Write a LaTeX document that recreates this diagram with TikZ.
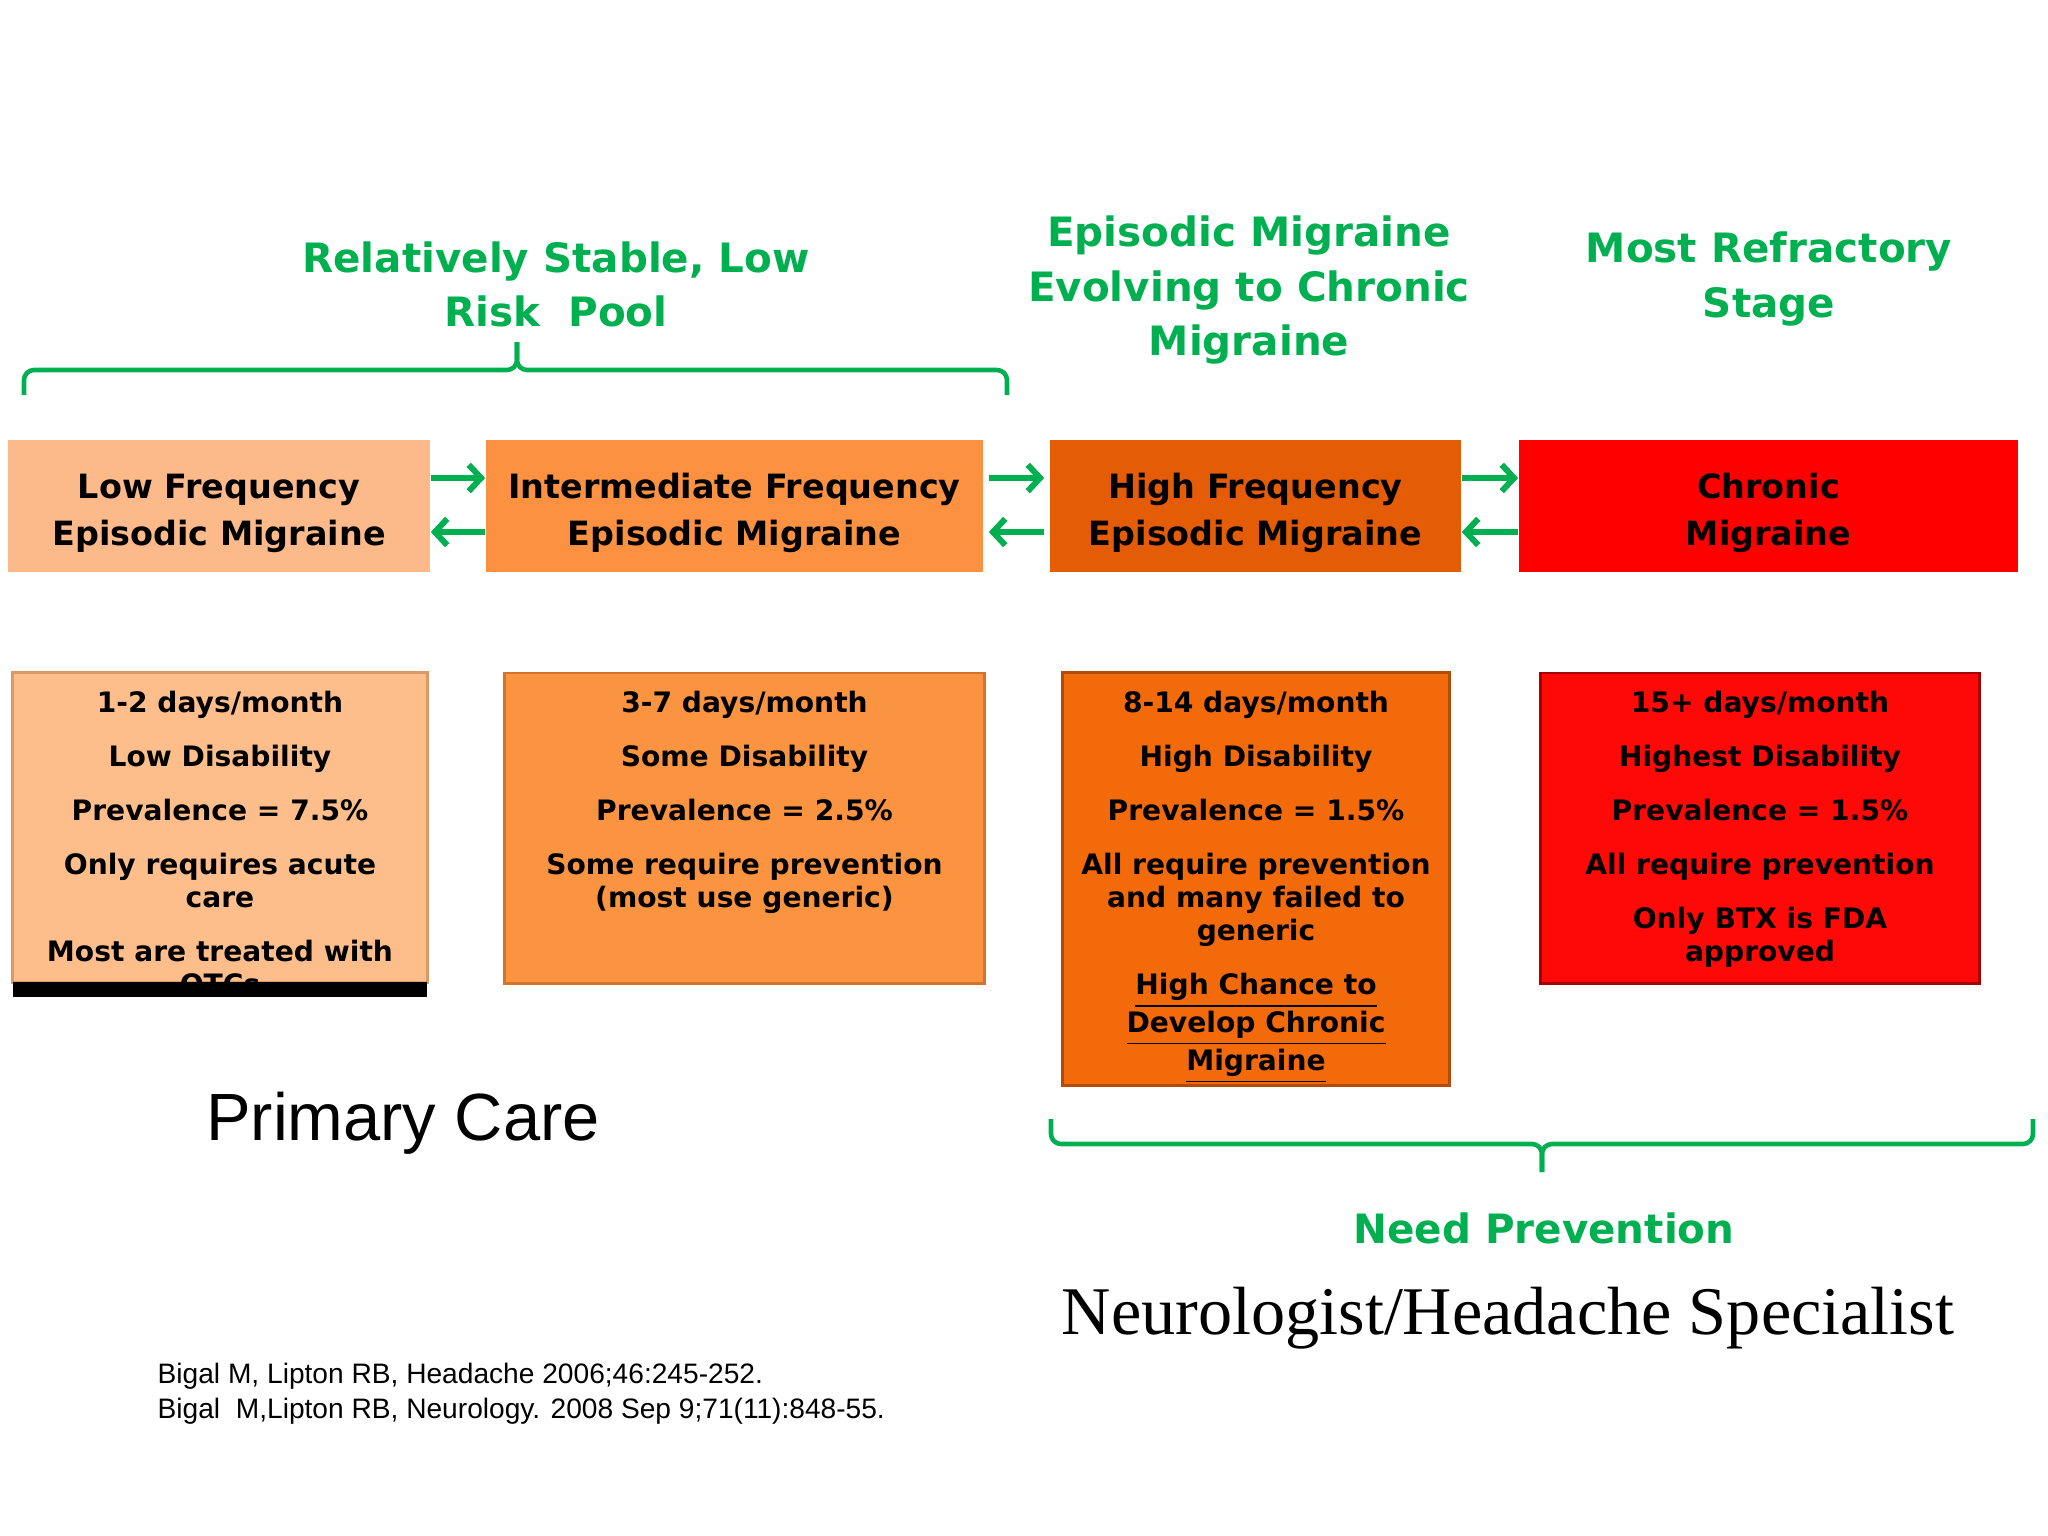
\documentclass[tikz,border=0pt]{standalone}
\usepackage{fontspec}
\setmainfont{DejaVu Sans}
\newfontfamily\refsfont{Liberation Sans}
\newfontfamily\specfont{Liberation Serif}
\usetikzlibrary{arrows.meta,positioning}

\definecolor{stagegreen}{HTML}{00B050}
\definecolor{lowfill}{HTML}{FCBA8B}
\definecolor{midfill}{HTML}{FC9142}
\definecolor{highfill}{HTML}{E45C06}
\definecolor{chronfill}{HTML}{FF0000}
\definecolor{lowdet}{HTML}{FDBE8C}
\definecolor{lowedge}{HTML}{D89A68}
\definecolor{middet}{HTML}{FB9441}
\definecolor{midedge}{HTML}{D27430}
\definecolor{highdet}{HTML}{F36A0B}
\definecolor{highedge}{HTML}{B44A08}
\definecolor{chrondet}{HTML}{FF0808}
\definecolor{chronedge}{HTML}{A80000}

% lowers the two text lines a little inside a stage box
\newcommand{\stagelift}{\rule{0pt}{10.9pt}}

\begin{document}
\begin{tikzpicture}[
    x=0.01cm, y=-0.01cm,
    stagebox/.style={rectangle,inner sep=0pt,minimum height=1.32cm,align=center,
      font=\fontsize{9.5}{13.4}\selectfont\bfseries},
    detailbox/.style={rectangle,inner sep=0pt,minimum height=3.1cm,line width=0.8pt},
    detailtext/.style={inner sep=0pt,align=center,anchor=north,
      font=\fontsize{8}{9.4}\selectfont\bfseries},
    heading/.style={align=center,text=stagegreen,inner sep=0pt,
      font=\fontsize{11.5}{15.4}\selectfont\bfseries},
    flowarrow/.style={draw=stagegreen,line width=1.7pt,
      -{Straight Barb[length=3.5pt,width=7.5pt]}},
    bracket/.style={draw=stagegreen,line width=1.3pt,rounded corners=0.1cm}
  ]
    \useasboundingbox (0,0) rectangle (2048,1536);

    \node[heading] (poolhead)    at (556,284)  {Relatively Stable, Low\\Risk\ \ Pool};
    \node[heading] (evolvehead)  at (1249,290) {Episodic Migraine\\Evolving to Chronic\\Migraine};
    \node[heading] (refracthead) at (1769,279) {Most Refractory\\Stage};

    \coordinate (poolL)   at (24,395);
    \coordinate (poolR)   at (1007,395);
    \coordinate (poolTip) at (517,342);
    \draw[bracket] (poolL) |- (517,370) -- (poolTip);
    \draw[bracket] (poolR) |- (517,370) -- (poolTip);

    \node[stagebox, fill=lowfill,   minimum width=4.22cm] (lfem) at (219,506)    {\stagelift Low Frequency\\Episodic Migraine};
    \node[stagebox, fill=midfill,   minimum width=4.97cm] (ifem) at (734.5,506)  {\stagelift Intermediate Frequency\\Episodic Migraine};
    \node[stagebox, fill=highfill,  minimum width=4.11cm] (hfem) at (1255.5,506) {\stagelift High Frequency\\Episodic Migraine};
    \node[stagebox, fill=chronfill, minimum width=4.99cm] (cm)   at (1768.5,506) {\stagelift Chronic\\Migraine};

    \draw[flowarrow] ([yshift=0.28cm]lfem.east) -- ([yshift=0.28cm]ifem.west);
    \draw[flowarrow] ([yshift=-0.26cm]ifem.west) -- ([yshift=-0.26cm]lfem.east);
    \draw[flowarrow, shorten <=0.05cm, shorten >=0.05cm] ([yshift=0.28cm]ifem.east) -- ([yshift=0.28cm]hfem.west);
    \draw[flowarrow, shorten <=0.05cm, shorten >=0.05cm] ([yshift=-0.26cm]hfem.west) -- ([yshift=-0.26cm]ifem.east);
    \draw[flowarrow] ([yshift=0.28cm]hfem.east) -- ([yshift=0.28cm]cm.west);
    \draw[flowarrow] ([yshift=-0.26cm]cm.west) -- ([yshift=-0.26cm]hfem.east);

    \node[detailbox, fill=lowdet, draw=lowedge, minimum width=4.14cm] (lfbox) at (220,827.5) {};
    \node[detailbox, fill=middet, draw=midedge, minimum width=4.79cm] (ifbox) at (744.5,828) {};
    \node[detailbox, fill=highdet, draw=highedge, minimum width=3.86cm, minimum height=4.12cm] (hfbox) at (1256,879) {};
    \node[detailbox, fill=chrondet, draw=chronedge, minimum width=4.38cm] (cmbox) at (1760,828) {};

    \node[detailtext] (lftext) at (220,690) {1-2 days/month\\[6pt]Low Disability\\[6pt]Prevalence = 7.5\%\\[6pt]Only requires acute\\care\\[6pt]Most are treated with\\OTCs};
    \node[detailtext] (iftext) at (744.5,690) {3-7 days/month\\[6pt]Some Disability\\[6pt]Prevalence = 2.5\%\\[6pt]Some require prevention\\(most use generic)};
    \node[detailtext] (hftext) at (1256,690) {8-14 days/month\\[6pt]High Disability\\[6pt]Prevalence = 1.5\%\\[6pt]All require prevention\\and many failed to\\generic\\[6pt]\underline{High Chance to}\\\underline{Develop Chronic}\\\underline{Migraine}};
    \node[detailtext] (cmtext) at (1760,690) {15+ days/month\\[6pt]Highest Disability\\[6pt]Prevalence = 1.5\%\\[6pt]All require prevention\\[6pt]Only BTX is FDA\\approved};
    \node[fill=black, inner sep=0pt, minimum width=4.14cm, minimum height=0.15cm] (otcbar) at (220,989.5) {};

    \node[font=\refsfont\fontsize{19}{23}\selectfont] (primary) at (403,1123) {Primary Care};

    \coordinate (prevL)   at (1051,1119);
    \coordinate (prevR)   at (2033,1119);
    \coordinate (prevTip) at (1542,1172);
    \draw[bracket] (prevL) |- (1542,1144) -- (prevTip);
    \draw[bracket] (prevR) |- (1542,1144) -- (prevTip);

    \node[heading] (needprev) at (1544,1228) {Need Prevention};
    \node[font=\specfont\fontsize{19.4}{23}\selectfont] (specialist) at (1508,1318) {Neurologist/Headache Specialist};
    \node[align=left, anchor=west, inner sep=0pt, font=\refsfont\fontsize{8}{10}\selectfont] (refs) at (157,1394)
      {Bigal M, Lipton RB, Headache 2006;46:245-252.\\Bigal\ \ M,Lipton RB, Neurology. 2008 Sep 9;71(11):848-55.};
  \end{tikzpicture}
\end{document}
